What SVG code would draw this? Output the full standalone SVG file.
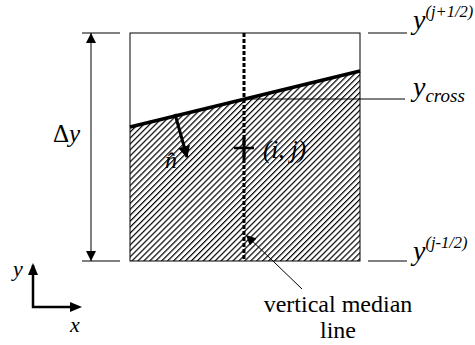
<svg xmlns="http://www.w3.org/2000/svg" width="475" height="345" viewBox="0 0 475 345" font-family="'Liberation Serif', 'Times New Roman', serif">
<style>
text{fill:#000}
.i{font-style:italic}
.thin{stroke:#000;stroke-width:1;fill:none}
</style>
<defs>
<pattern id="hatch" patternUnits="userSpaceOnUse" width="4.2" height="4.2" patternTransform="rotate(45)">
<line x1="0.6" y1="0" x2="0.6" y2="4.2" stroke="#000" stroke-width="1.2"/>
</pattern>
<marker id="ah" viewBox="0 0 10 10" refX="10" refY="5" markerWidth="10" markerHeight="10" markerUnits="userSpaceOnUse" orient="auto-start-reverse">
<path d="M0,0 L10,5 L0,10 z" fill="#000"/>
</marker>
<marker id="ahb" viewBox="0 0 10 10" refX="9" refY="5" markerWidth="4" markerHeight="4" orient="auto">
<path d="M0,0 L10,5 L0,10 z" fill="#000"/>
</marker>
</defs>
<g id="cell">
<polygon points="130,127 360,71 360,261 130,261" fill="url(#hatch)"/>
<rect x="130" y="33" width="230" height="228" class="thin"/>
</g>
<g id="interface">
<line x1="130" y1="127" x2="360" y2="71" stroke="#000" stroke-width="3.5"/>
</g>
<g id="median">
<line x1="244" y1="33" x2="244" y2="261" stroke="#000" stroke-width="3" stroke-dasharray="4,2"/>
</g>
<g id="center">
<line x1="234" y1="148" x2="254" y2="148" stroke="#000" stroke-width="2.5"/>
<line x1="244" y1="137" x2="244" y2="159" stroke="#000" stroke-width="3"/>
<text class="i" x="263" y="158" font-size="25">(i, j)</text>
</g>
<g id="normal">
<line x1="175" y1="114" x2="187" y2="157" stroke="#000" stroke-width="3" marker-end="url(#ahb)"/>
<text class="i" x="165" y="168" font-size="24">n̂</text>
</g>
<g id="connectors">
<line x1="91" y1="33" x2="91" y2="261" class="thin" marker-start="url(#ah)" marker-end="url(#ah)"/>
<line x1="82" y1="33" x2="120" y2="33" class="thin"/>
<line x1="82" y1="261" x2="120" y2="261" class="thin"/>
<line x1="368" y1="33" x2="407" y2="33" class="thin"/>
<line x1="368" y1="261" x2="407" y2="261" class="thin"/>
<line x1="244" y1="99" x2="405" y2="99" class="thin"/>
<line x1="302" y1="289" x2="246" y2="235" class="thin" marker-end="url(#ah)"/>
<polyline points="33,265 33,307 76,307" fill="none" stroke="#000" stroke-width="2.5"/>
<path d="M28,275 L33,263 L38,275 z" fill="#000"/>
<path d="M70,302 L82,307 L70,312 z" fill="#000"/>
</g>
<g id="labels">
<text x="53" y="142" font-size="25">Δ<tspan class="i">y</tspan></text>
<text class="i" x="413" y="29" font-size="28">y<tspan font-size="16.5" dy="-12">(j+1/2)</tspan></text>
<text class="i" x="413" y="96" font-size="28">y<tspan font-size="19" dy="6">cross</tspan></text>
<text class="i" x="413" y="260" font-size="28">y<tspan font-size="16.5" dy="-12">(j-1/2)</tspan></text>
<text class="i" x="13" y="276" font-size="22">y</text>
<text class="i" x="70" y="332" font-size="22">x</text>
<text x="338" y="312" font-size="24" text-anchor="middle">vertical median</text>
<text x="338" y="338" font-size="24" text-anchor="middle">line</text>
</g>
</svg>
